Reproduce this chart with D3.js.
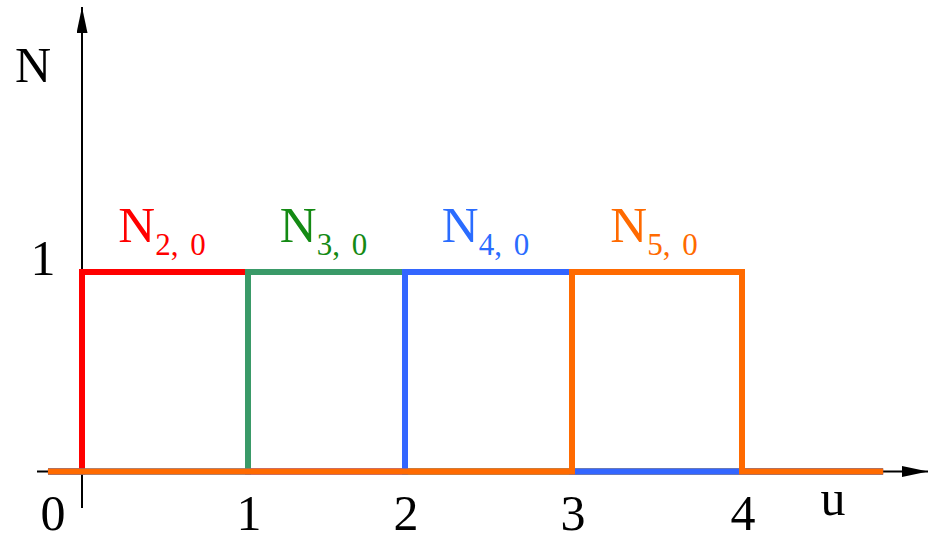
<!DOCTYPE html>
<html>
<head>
<meta charset="utf-8">
<script src="https://cdn.jsdelivr.net/npm/d3@7"></script>
<style>
  body { margin: 0; background: #fff; }
  text { font-family: "Liberation Serif", "DejaVu Serif", serif; }
</style>
</head>
<body>
<div id="chart"></div>
<script>
const width = 929, height = 535;

// knots (non-uniform spacing in the picture) and the basis functions
const knots = [0, 1, 2, 3, 4];
const knotPx = [82, 248, 405, 572, 742];
const uStart = -0.205, uEnd = 4.83;
const basisNames = ["2", "3", "4", "5"];
const basisStart = [0, 1, 2, 3];
const lineColors = ["#ff0000", "#3a9a68", "#3366ff", "#ff6a00"];
const textColors = ["#ff0000", "#148a14", "#2a6cff", "#ff6a00"];
const xTickLabels = ["0", "1", "2", "3", "4"];
const yTickValues = [1];

const svg = d3.select("#chart")
  .append("svg")
    .attr("width", width)
    .attr("height", height);

const x = d3.scaleLinear().domain(knots).range(knotPx);
const y = d3.scaleLinear().domain([0, 1]).range([471.5, 272]);

// arrows
const defs = svg.append("defs");
defs.append("marker")
    .attr("id", "arrow")
    .attr("viewBox", "0 0 26 11")
    .attr("refX", 26).attr("refY", 5.5)
    .attr("markerWidth", 26).attr("markerHeight", 11)
    .attr("markerUnits", "userSpaceOnUse")
    .attr("orient", "auto")
  .append("path")
    .attr("d", "M0,0 L26,5.5 L0,11 Z")
    .attr("fill", "#000");

// x axis
svg.append("line")
    .attr("x1", 37).attr("x2", 928)
    .attr("y1", y(0)).attr("y2", y(0))
    .attr("stroke", "#000").attr("stroke-width", 2)
    .attr("marker-end", "url(#arrow)");

// y axis
svg.append("line")
    .attr("x1", x(0)).attr("x2", x(0))
    .attr("y1", 508).attr("y2", 7)
    .attr("stroke", "#000").attr("stroke-width", 2)
    .attr("marker-end", "url(#arrow)");

const line = d3.line()
    .x(d => x(d.u))
    .y(d => y(d.v))
    .curve(d3.curveStepAfter);

basisStart.forEach((k, i) => {
  const pts = [
    { u: uStart, v: 0 },
    { u: k, v: 1 },
    { u: k + 1, v: 0 },
    { u: uEnd, v: 0 }
  ];
  svg.append("path")
      .datum(pts)
      .attr("d", line)
      .attr("fill", "none")
      .attr("stroke", lineColors[i])
      .attr("stroke-width", 6);
});

// labels N_{k,0}
basisStart.forEach((k, i) => {
  const t = svg.append("text")
      .attr("x", (x(k) + x(k + 1)) / 2 - 3)
      .attr("y", 242)
      .attr("text-anchor", "middle")
      .attr("fill", textColors[i])
      .style("font-size", "51px");
  t.append("tspan").text("N");
  t.append("tspan")
      .attr("dy", 13)
      .style("font-size", "31px")
      .style("word-spacing", "4px")
      .text(basisNames[i] + ", 0");
});

// tick labels
svg.selectAll(".xtick")
  .data(knots)
  .enter().append("text")
    .attr("class", "xtick")
    .attr("x", (d, i) => i === 0 ? x(d) - 29 : x(d) + 1)
    .attr("y", 530)
    .attr("text-anchor", "middle")
    .style("font-size", "50px")
    .text((d, i) => xTickLabels[i]);

svg.selectAll(".ytick")
  .data(yTickValues)
  .enter().append("text")
    .attr("class", "ytick")
    .attr("x", 43)
    .attr("y", y(1) + 3)
    .attr("text-anchor", "middle")
    .style("font-size", "50px")
    .text(d => d);

// axis names
svg.append("text")
    .attr("x", 33).attr("y", 82)
    .attr("text-anchor", "middle")
    .style("font-size", "50px")
    .text("N");

svg.append("text")
    .attr("x", 833).attr("y", 515)
    .attr("text-anchor", "middle")
    .style("font-size", "50px")
    .text("u");
</script>
</body>
</html>
